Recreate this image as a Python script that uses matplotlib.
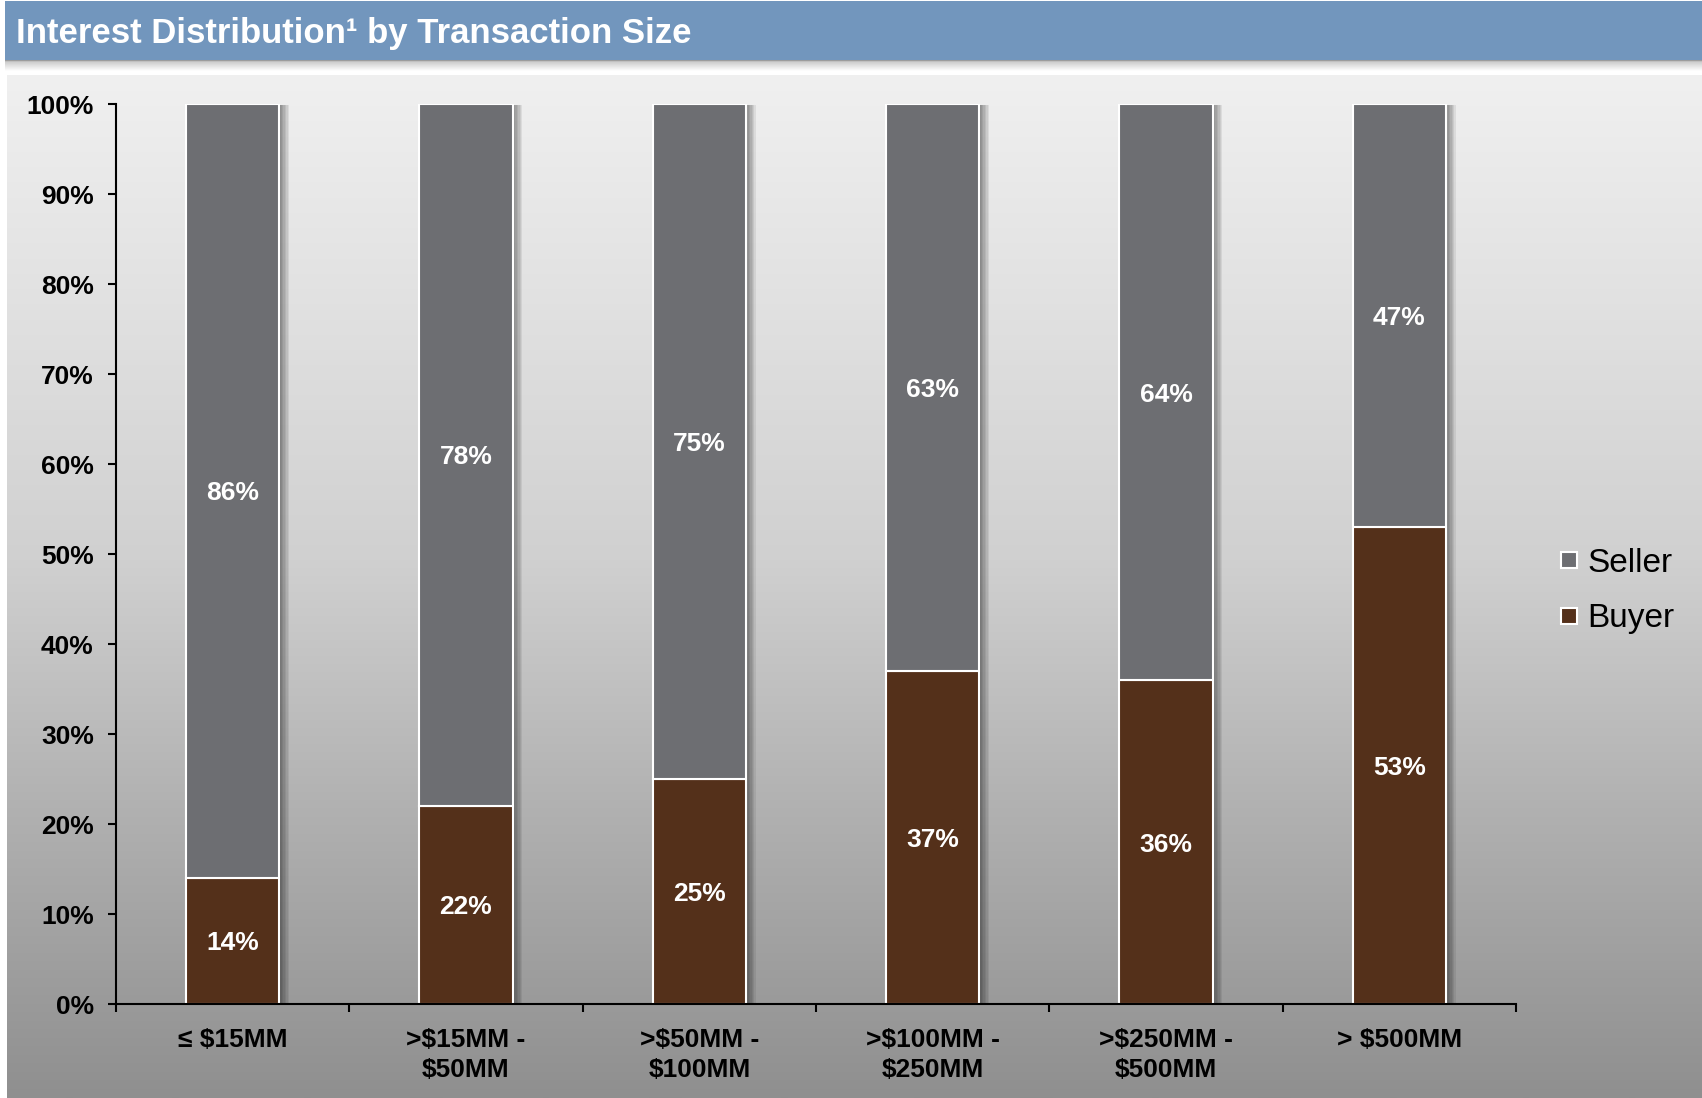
import numpy as np
import matplotlib.pyplot as plt
from matplotlib import patheffects as pe
from matplotlib.lines import Line2D
from matplotlib.patches import Rectangle

plt.rcParams['font.family'] = ['Liberation Sans', 'DejaVu Sans']

# data
categories = ['≤ \\$15MM', '>\\$15MM -\n\\$50MM', '>\\$50MM -\n\\$100MM',
              '>\\$100MM -\n\\$250MM', '>\\$250MM -\n\\$500MM', '> \\$500MM']
buyer = [14, 22, 25, 37, 36, 53]
seller = [86, 78, 75, 63, 64, 47]
series_names = ['Seller', 'Buyer']
yticks = [0, 10, 20, 30, 40, 50, 60, 70, 80, 90, 100]

SELLER_C = '#6d6e72'
BUYER_C = '#54301a'
BAND_C = '#7296bd'

W, H = 1702, 1098
fig = plt.figure(figsize=(W / 100, H / 100), dpi=100)
fig.patch.set_facecolor('white')

# background layer in pixel coordinates
bg = fig.add_axes([0, 0, 1, 1], zorder=-5)
bg.set_xlim(0, W)
bg.set_ylim(H, 0)
bg.axis('off')

# grey panel, lighter at the top
rows = np.arange(75, H + 1)
shade = np.interp(rows, [75, 350, 560, 800, 1098], [240, 222, 208, 178, 143]) / 255
panel = np.repeat(shade[:, None], 3, axis=1)[:, None, :]
bg.imshow(panel, extent=(7, W, H, 75), aspect='auto', interpolation='bilinear')

# title band and its shadow
bg.add_patch(Rectangle((5, 1), W - 5, 59, color=BAND_C, lw=0))
sh = np.linspace(0, 1, 40)
sh_rgb = np.interp(sh, [0, 0.15, 1], [0.55, 0.8, 1.0])
sh_img = np.repeat(sh_rgb[:, None], 3, axis=1)[:, None, :]
bg.imshow(sh_img, extent=(5, W, 71, 60), aspect='auto', interpolation='bilinear')
bg.text(16, 33, 'Interest Distribution¹ by Transaction Size', color='white',
        fontsize=25, fontweight='bold', va='center', ha='left')

# main chart
ax = fig.add_axes([116 / W, 1 - 1004 / H, 1400 / W, 900 / H])
ax.set_facecolor('none')
x = np.arange(len(categories))

# soft drop shadow to the right of each bar
shadow = [pe.SimplePatchShadow(offset=(d, -0.5), shadow_rgbFace='black', alpha=0.07)
          for d in (1, 2, 3, 4, 5, 6, 7)] + [pe.Normal()]

b_bars = ax.bar(x, buyer, width=0.4, color=BUYER_C, edgecolor='white', lw=1.5,
                zorder=3)
s_bars = ax.bar(x, seller, width=0.4, bottom=buyer, color=SELLER_C,
                edgecolor='white', lw=1.5, zorder=3)
for bar in list(b_bars) + list(s_bars):
    bar.set_path_effects(shadow)

for i in range(len(categories)):
    ax.text(x[i], buyer[i] / 2, f'{buyer[i]}%', ha='center',
            va='center_baseline', color='white', fontsize=19,
            fontweight='bold', zorder=4)
    ax.text(x[i], buyer[i] + seller[i] / 2, f'{seller[i]}%', ha='center',
            va='center_baseline', color='white', fontsize=19,
            fontweight='bold', zorder=4)

ax.set_xlim(-0.5, len(categories) - 0.5)
ax.set_ylim(0, 100)
ax.set_yticks(yticks)
ax.set_yticklabels([f'{t}%' for t in yticks], fontsize=19, fontweight='bold')
ax.set_xticks(x)
ax.set_xticklabels(categories, fontsize=19, fontweight='bold', linespacing=1.35)
ax.set_xticks(np.arange(len(categories) + 1) - 0.5, minor=True)
ax.tick_params(axis='x', which='major', length=0, pad=17)
ax.tick_params(axis='x', which='minor', length=6, width=1.5, direction='out')
ax.tick_params(axis='y', length=6, width=1.5, direction='out', pad=10)
for side in ('top', 'right'):
    ax.spines[side].set_visible(False)
for side in ('left', 'bottom'):
    ax.spines[side].set_linewidth(1.5)
    ax.spines[side].set_zorder(5)

handles = [Line2D([], [], ls='none', marker='s', markersize=12,
                  markerfacecolor=c, markeredgecolor='white', markeredgewidth=1.5)
           for c in (SELLER_C, BUYER_C)]
ax.legend(handles, series_names, loc='center left',
          bbox_to_anchor=((1559 - 116) / 1400, (1004 - 591) / 900),
          frameon=False, fontsize=24, handlelength=0.6, handletextpad=0.25,
          labelspacing=0.75, borderpad=0, borderaxespad=0)

fig.savefig('out.png', dpi=100)
